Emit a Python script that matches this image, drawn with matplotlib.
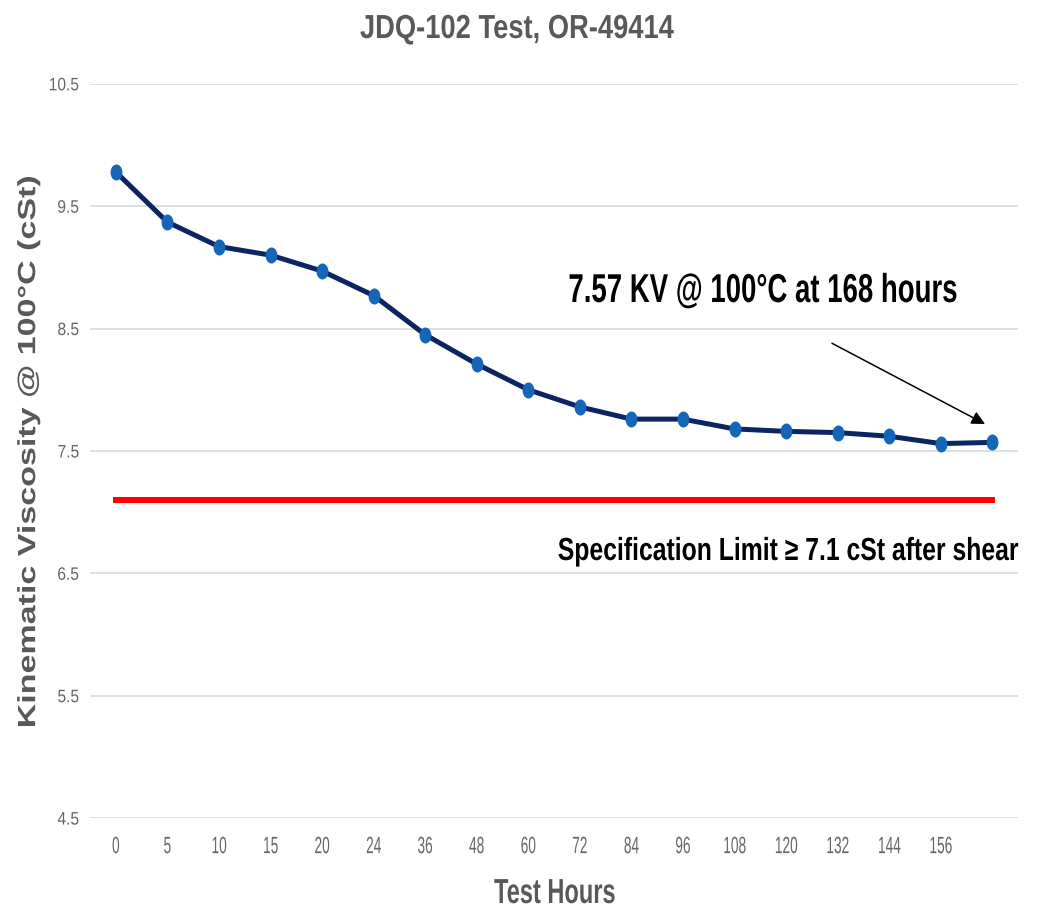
import matplotlib
matplotlib.use("Agg")
import matplotlib.pyplot as plt
import matplotlib.patheffects as pe
from matplotlib.path import Path
from matplotlib.transforms import Affine2D
import numpy as np

plt.rcParams['font.family'] = ['Liberation Sans', 'DejaVu Sans']

# viscosity readings per test hour
hours = ['0', '5', '10', '15', '20', '24', '36', '48', '60', '72', '84', '96',
         '108', '120', '132', '144', '156', '']
viscosity = [9.78, 9.37, 9.17, 9.10, 8.97, 8.77, 8.45, 8.21, 8.00, 7.86, 7.76,
             7.76, 7.68, 7.66, 7.65, 7.62, 7.56, 7.57]
spec_limit = 7.1
yticks = [4.5, 5.5, 6.5, 7.5, 8.5, 9.5, 10.5]

gray = '#595959'


class Squeeze(pe.AbstractPathEffect):
    """Draw text glyphs narrower (sx) or flatter (sy) around an anchor."""
    def __init__(self, sx=1.0, sy=1.0, anchor='center'):
        super().__init__()
        self.sx, self.sy, self.anchor = sx, sy, anchor

    def draw_path(self, renderer, gc, tpath, affine, rgbFace=None):
        ext = tpath.get_extents()
        cx = {'left': ext.x0, 'center': (ext.x0 + ext.x1) / 2, 'right': ext.x1}[self.anchor]
        cy = (ext.y0 + ext.y1) / 2
        t = Affine2D().translate(-cx, -cy).scale(self.sx, self.sy).translate(cx, cy)
        renderer.draw_path(gc, tpath, t + affine, rgbFace)


def narrow(txt, sx, anchor='center'):
    txt.set_path_effects([Squeeze(sx=sx, anchor=anchor)])
    return txt


# slightly tall oval marker
circ = Path.unit_circle()
oval = Path(circ.vertices * [0.72, 1.0], circ.codes)

fig = plt.figure(figsize=(10.41, 9.11), dpi=100)
ax = fig.add_axes([0.0865, 0.102, 0.8915, 0.806])

x = np.arange(len(hours))
ax.plot(x, viscosity, color='#0c2461', lw=3.6, zorder=3)
ax.plot(x, viscosity, ls='none', marker=oval, color='#1565b8', ms=10.5, zorder=4)
ax.plot([x[0], x[-1]], [spec_limit, spec_limit], color='#ff0000', lw=4.3, zorder=2)

ax.set_xlim(-0.5, len(hours) - 0.5)
ax.set_ylim(4.5, 10.5)
ax.set_yticks(yticks)
ax.set_yticklabels([f'{v:.1f}' for v in yticks], fontsize=13, color='#666666')
ax.set_xticks(x)
ax.set_xticklabels(hours, fontsize=17, color='#666666')
ax.tick_params(length=0)
ax.tick_params(axis='x', pad=13)
ax.tick_params(axis='y', pad=8)
for lab in ax.get_xticklabels():
    narrow(lab, 0.58)
for lab in ax.get_yticklabels():
    narrow(lab, 0.86, 'right')
ax.grid(axis='y', color='#d9d9d9', lw=1.2)
ax.set_axisbelow(True)
for s in ax.spines.values():
    s.set_visible(False)

narrow(fig.text(555 / 1041, 1 - 903 / 911, 'Test Hours', ha='center', va='baseline',
                fontsize=25, fontweight='bold', color=gray), 0.68)
fig.text(29 / 1041, 1 - 452 / 911, 'Kinematic Viscosity @ 100°C (cSt)', rotation=90,
         ha='center', va='center', fontsize=24.5, fontweight='bold', color=gray,
         path_effects=[Squeeze(sy=0.73)])
narrow(fig.text(517 / 1041, 1 - 38 / 911, 'JDQ-102 Test, OR-49414', ha='center',
                va='baseline', fontsize=24, fontweight='bold', color=gray), 0.82)

narrow(fig.text(957 / 1041, 1 - 302 / 911, '7.57 KV @ 100°C at 168 hours', ha='right',
                va='baseline', fontsize=29, fontweight='bold', color='black'),
       0.685, 'right')
narrow(fig.text(1019 / 1041, 1 - 560 / 911, 'Specification Limit ≥ 7.1 cSt after shear',
                ha='right', va='baseline', fontsize=23, fontweight='bold', color='black'),
       0.775, 'right')
ax.annotate('', xy=(16.86, 7.72), xytext=(13.89, 8.38),
            arrowprops=dict(arrowstyle='-|>', color='black', lw=1.1, mutation_scale=20,
                            shrinkA=0, shrinkB=0))

fig.savefig('out.png', dpi=100)
